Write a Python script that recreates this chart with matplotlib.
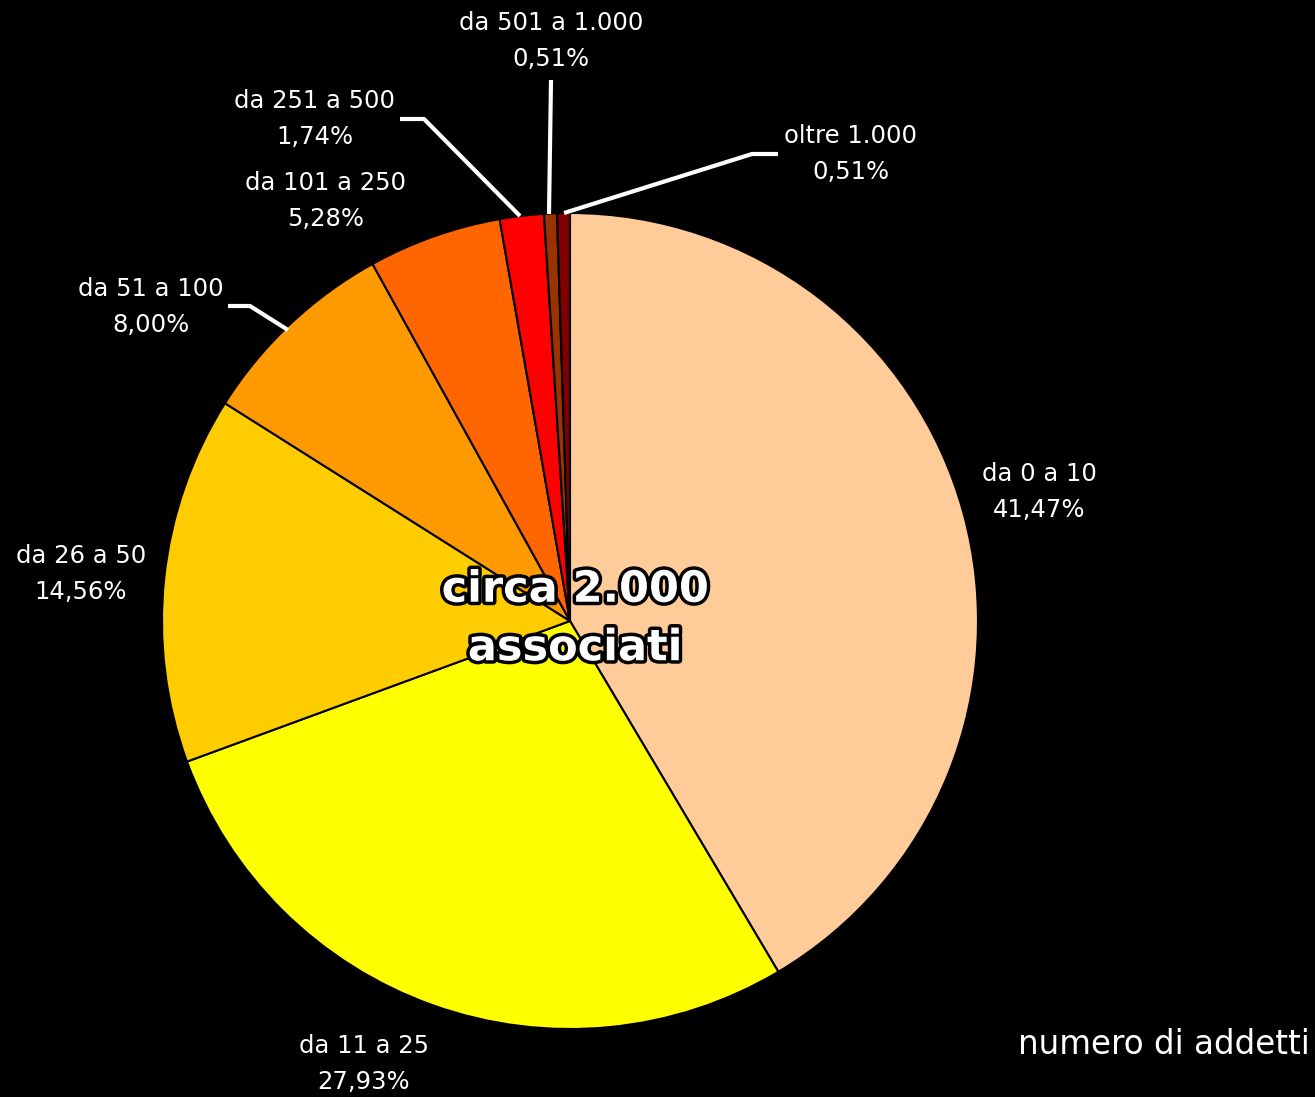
import matplotlib
matplotlib.use("Agg")
import matplotlib.pyplot as plt
import matplotlib.patheffects as pe

categories = ["da 0 a 10", "da 11 a 25", "da 26 a 50", "da 51 a 100",
              "da 101 a 250", "da 251 a 500", "da 501 a 1.000", "oltre 1.000"]
values = [41.47, 27.93, 14.56, 8.00, 5.28, 1.74, 0.51, 0.51]
colors = ["#FFCC99", "#FFFF00", "#FFCC00", "#FF9900", "#FF6600", "#FF0000", "#993300", "#800000"]

W, H = 1315, 1097
fig = plt.figure(figsize=(W / 100, H / 100), dpi=100, facecolor="black")
ax = fig.add_axes([0, 0, 1, 1])
ax.set_facecolor("black")

cx, cy, r = 570, H - 621, 408
ax.pie(values, colors=colors, startangle=90, counterclock=False,
       center=(cx, cy), radius=r, frame=True,
       wedgeprops=dict(edgecolor="black", linewidth=1.5))
ax.set_xlim(0, W)
ax.set_ylim(0, H)
ax.set_aspect("equal")
ax.axis("off")

def fmt(v):
    return f"{v:.2f}".replace(".", ",") + "%"

# label centers (pixel, top-origin)
label_pos = [(1039, 492), (364, 1064), (81, 574), (151, 307),
             (326, 201), (315, 119), (551, 41), (851, 154)]
font = "DejaVu Sans"
for cat, v, (x, y) in zip(categories, values, label_pos):
    ax.text(x, H - y, f"{cat}\n{fmt(v)}", color="white", ha="center", va="center",
            fontsize=17.5, family=font, linespacing=1.6)

# leader lines
leaders = [
    [(228, 306), (250, 306), (288, 330)],
    [(400, 119), (424, 119), (520, 216)],
    [(551, 80), (549, 214)],
    [(778, 154), (752, 154), (564, 213)],
]
for pts in leaders:
    xs = [p[0] for p in pts]
    ys = [H - p[1] for p in pts]
    ax.plot(xs, ys, color="white", lw=3, solid_capstyle="butt", zorder=5)

ax.text(575, H - 619, "circa 2.000\nassociati", color="white", ha="center", va="center",
        fontsize=31, fontweight="bold", family="DejaVu Sans", linespacing=1.5,
        path_effects=[pe.withStroke(linewidth=5, foreground="black")], zorder=6)

ax.text(1310, H - 1045, "numero di addetti", color="white", ha="right", va="center",
        fontsize=23.5, family=font)

fig.savefig("out.png", dpi=100, facecolor="black")
